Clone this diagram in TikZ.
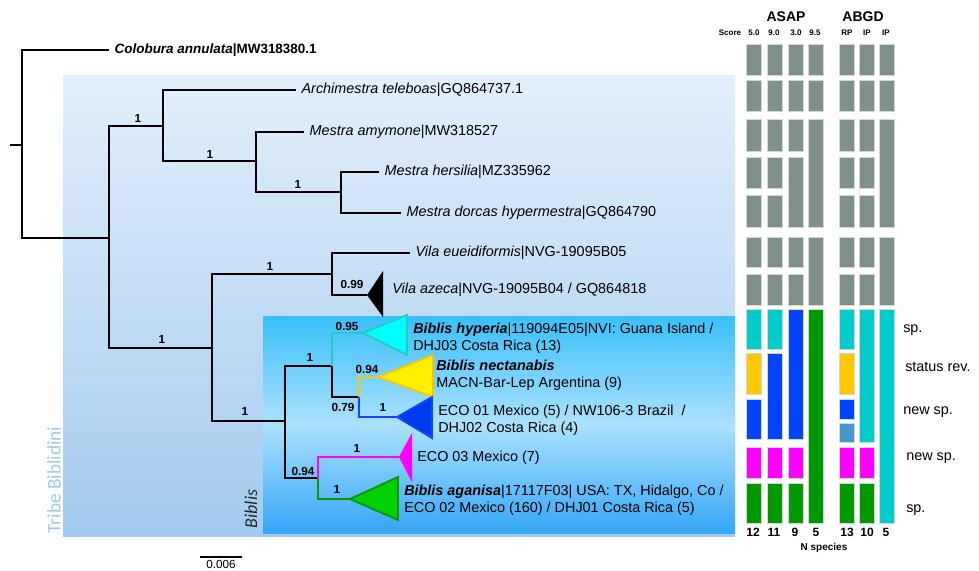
\documentclass[tikz,border=0pt]{standalone}
\usepackage{fontspec}
\setmainfont{Liberation Sans}
\newfontfamily\calfont{Carlito}
\usepackage{tikz}
\usetikzlibrary{positioning}
\definecolor{tribetop}{RGB}{227,239,252}
\definecolor{tribebot}{RGB}{162,202,238}
\definecolor{biblistop}{RGB}{56,192,250}
\definecolor{biblismid}{RGB}{172,225,252}
\definecolor{biblisbot}{RGB}{52,166,248}
\definecolor{tribetext}{RGB}{160,200,236}
\definecolor{treegray}{RGB}{127,143,137}
\definecolor{barcyan}{RGB}{0,204,204}
\definecolor{baryellow}{RGB}{255,200,0}
\definecolor{barblue}{RGB}{0,68,255}
\definecolor{barmagenta}{RGB}{255,0,255}
\definecolor{bargreen}{RGB}{0,153,0}
\definecolor{barltblue}{RGB}{70,150,205}
\definecolor{hypline}{RGB}{40,200,196}
\definecolor{hypfill}{RGB}{0,255,255}
\definecolor{necline}{RGB}{248,196,20}
\definecolor{necfill}{RGB}{255,240,0}
\definecolor{ecoline}{RGB}{20,70,255}
\definecolor{ecofill}{RGB}{0,60,235}
\definecolor{agaline}{RGB}{10,150,10}
\definecolor{agafill}{RGB}{0,210,0}

\begin{document}
\begin{tikzpicture}[x=0.75pt, y=-0.75pt,
    branch/.style={line width=2pt},
    tip/.style={anchor=west, inner sep=4pt, font=\fontsize{10.8}{13}\selectfont},
    clade/.style={anchor=west, align=left, inner sep=0pt, font=\fontsize{10.8}{12.75}\selectfont},
    supp/.style={inner sep=0pt, font=\bfseries\fontsize{8.8}{9}\selectfont},
    tri/.style={line width=1.4pt, line join=miter},
    bar/.style={draw=white!65!treegray, line width=0.5pt},
    head/.style={inner sep=0pt, font=\bfseries\fontsize{10.5}{12}\selectfont},
    sub/.style={inner sep=0pt, font=\bfseries\fontsize{6}{7}\selectfont},
    nsp/.style={inner sep=0pt, font=\bfseries\fontsize{9}{10}\selectfont},
    status/.style={anchor=west, inner sep=0pt, font=\fontsize{10.8}{12}\selectfont}
]
\useasboundingbox (0,0) rectangle (979,571);

\shade[top color=tribetop, bottom color=tribebot] (63,75) rectangle (735,536);
\shade[top color=biblistop, bottom color=biblisbot, middle color=biblismid] (263,316) rectangle (735,533);

\node[rotate=90, text=tribetext, inner sep=0pt, font=\calfont\fontsize{14.5}{16}\selectfont] (tribe) at (54,480) {Tribe Biblidini};
\node[rotate=90, text=black!85, inner sep=0pt, font=\calfont\itshape\fontsize{13.5}{15}\selectfont] (biblis) at (251,509) {Biblis};

\coordinate (stub) at (10,145);
\coordinate (root) at (22,145);
\coordinate (nA) at (109,238);
\coordinate (nB) at (163,126);
\coordinate (nC) at (256,161);
\coordinate (nD) at (341,192);
\coordinate (nE) at (212,348);
\coordinate (nF) at (332,274);
\coordinate (nG) at (285,421);
\coordinate (nH) at (332,366);
\coordinate (nI) at (359,397);
\coordinate (nJ) at (318,478);
\coordinate (aAze) at (367,295);
\coordinate (aHyp) at (363,333);
\coordinate (aNec) at (378,377);
\coordinate (aEco1) at (397,417);
\coordinate (aEco3) at (399,457);
\coordinate (aAga) at (350,499);

\node[tip, font=\fontsize{10.1}{12}\selectfont] (colobura) at (109,50) {\textbf{\textit{Colobura annulata}|MW318380.1}};
\node[tip] (teleboas) at (296,90) {\textit{Archimestra teleboas}|GQ864737.1};
\node[tip] (amymone) at (304,132) {\textit{Mestra amymone}|MW318527};
\node[tip] (hersilia) at (379,172) {\textit{Mestra hersilia}|MZ335962};
\node[tip] (dorcas) at (401,213) {\textit{Mestra dorcas hypermestra}|GQ864790};
\node[tip] (eueid) at (410,253) {\textit{Vila eueidiformis}|NVG-19095B05};
\node[clade] (azeca) at (392,290) {\textit{Vila azeca}|NVG-19095B04 / GQ864818};

\draw[branch] (stub) -- (root);
\draw[branch] (root) |- (colobura.west);
\draw[branch] (root) |- (nA);
\draw[branch] (nA) |- (nB);
\draw[branch] (nA) |- (nE);
\draw[branch] (nB) |- (teleboas.west);
\draw[branch] (nB) |- (nC);
\draw[branch] (nC) |- (amymone.west);
\draw[branch] (nC) |- (nD);
\draw[branch] (nD) |- (hersilia.west);
\draw[branch] (nD) |- (dorcas.west);
\draw[branch] (nE) |- (nF);
\draw[branch] (nE) |- (nG);
\draw[branch] (nF) |- (eueid.west);
\draw[branch] (nF) |- (aAze);
\draw[branch] (nG) |- (nH);
\draw[branch] (nG) |- (nJ);
\draw[branch] (nH) |- (nI);
\draw[branch, hypline] (nH) |- (aHyp);
\draw[branch, necline] (nI) |- (aNec);
\draw[branch, ecoline] (nI) |- (aEco1);
\draw[branch, barmagenta] (nJ) |- (aEco3);
\draw[branch, agaline] (nJ) |- (aAga);

\fill[black] (aAze) -- ++(16,-24) -- ++(0,46) -- cycle;
\filldraw[tri, fill=hypfill, draw=hypline] (aHyp) -- ++(44,-18) -- ++(0,40) -- cycle;
\filldraw[tri, fill=necfill, draw=necline] (aNec) -- ++(55,-22) -- ++(0,42) -- cycle;
\filldraw[tri, fill=ecofill, draw=ecoline] (aEco1) -- ++(35,-20) -- ++(0,41) -- cycle;
\fill[barmagenta] (aEco3) -- ++(13,-24) -- ++(0,49) -- cycle;
\filldraw[tri, fill=agafill, draw=agaline] (aAga) -- ++(48,-22) -- ++(0,43) -- cycle;

\node[supp] (sB) at (138,118) {1};
\node[supp] (sC) at (210,154) {1};
\node[supp] (sD) at (298,184) {1};
\node[supp] (sE) at (162,339) {1};
\node[supp] (sF) at (270,266) {1};
\node[supp] (sAze) at (352,284) {0.99};
\node[supp] (sG) at (245,411) {1};
\node[supp] (sH) at (310,357) {1};
\node[supp] (sHyp) at (347,326) {0.95};
\node[supp] (sI) at (343,407) {0.79};
\node[supp] (sNec) at (367,369) {0.94};
\node[supp] (sEco1) at (383,407) {1};
\node[supp] (sJ) at (303,471) {0.94};
\node[supp] (sEco3) at (357,448) {1};
\node[supp] (sAga) at (337,489) {1};

\node[clade] (hyperia) at (413,338.5) {\textbf{\textit{Biblis hyperia}}|119094E05|NVI: Guana Island /\\DHJ03 Costa Rica (13)};
\node[clade] (nectanabis) at (436,375.5) {\textbf{\textit{Biblis nectanabis}}\\MACN-Bar-Lep Argentina (9)};
\node[clade] (eco1) at (438,420) {ECO 01 Mexico (5) / NW106-3 Brazil\ \ /\\DHJ02 Costa Rica (4)};
\node[clade] (eco3) at (417,458) {ECO 03 Mexico (7)};
\node[clade] (aganisa) at (404,500.5) {\textbf{\textit{Biblis aganisa}}|17117F03| USA: TX, Hidalgo, Co /\\ECO 02 Mexico (160) / DHJ01 Costa Rica (5)};

\coordinate (sbL) at (200,557);
\coordinate (sbR) at (242,557);
\draw[line width=0.8pt] (sbL) -- (sbR);
\node[anchor=north, inner sep=0pt, font=\fontsize{8.8}{10}\selectfont] (sblab) at (221,560) {0.006};

\foreach \x in {746,767,839,859}
  \foreach \ya/\yb in {44/75,80/111,119/151,157/188,195/227,237/267,274/305}
    \draw[bar, fill=treegray] (\x,\ya) rectangle (\x+15,\yb);
\foreach \ya/\yb in {44/75,80/111,119/151,157/227,237/267,274/305}
  \draw[bar, fill=treegray] (788,\ya) rectangle (803,\yb);
\foreach \x in {808,879}
  \foreach \ya/\yb in {44/75,80/111,119/227,237/305}
    \draw[bar, fill=treegray] (\x,\ya) rectangle (\x+15,\yb);

\foreach \x/\ya/\yb/\c in {
    746/309/349/barcyan, 746/353/394/baryellow, 746/399/439/barblue, 746/447/478/barmagenta, 746/483/523/bargreen,
    767/309/349/barcyan, 767/353/439/barblue, 767/447/478/barmagenta, 767/483/523/bargreen,
    788/309/439/barblue, 788/447/478/barmagenta, 788/483/523/bargreen,
    808/309/523/bargreen,
    839/309/349/barcyan, 839/353/394/baryellow, 839/399/419/barblue, 839/423/442/barltblue, 839/447/478/barmagenta, 839/483/523/bargreen,
    859/309/442/barcyan, 859/447/478/barmagenta, 859/483/523/bargreen,
    879/309/523/barcyan}
  \draw[bar, fill=\c] (\x,\ya) rectangle (\x+15,\yb);

\node[head] (asap) at (786,17) {ASAP};
\node[head] (abgd) at (863,17) {ABGD};
\node[sub] (score) at (730,33) {Score};
\foreach \x/\t [count=\i] in {754/5.0, 774/9.0, 796/3.0, 815/9.5, 847/RP, 867/IP, 886/IP}
  \node[sub] (thr\i) at (\x,33) {\t};
\foreach \x/\t [count=\i] in {753/12, 774/11, 795/9, 816/5, 847/13, 867/10, 886/5}
  \node[nsp] (n\i) at (\x,532) {\t};
\node[inner sep=0pt, font=\bfseries\fontsize{7.5}{9}\selectfont] (nspecies) at (824,548) {N species};

\node[status] (st1) at (903,330) {sp.};
\node[status] (st2) at (905,367) {status rev.};
\node[status] (st3) at (903,412) {new sp.};
\node[status] (st4) at (906,458) {new sp.};
\node[status] (st5) at (906,510) {sp.};

\end{tikzpicture}
\end{document}
